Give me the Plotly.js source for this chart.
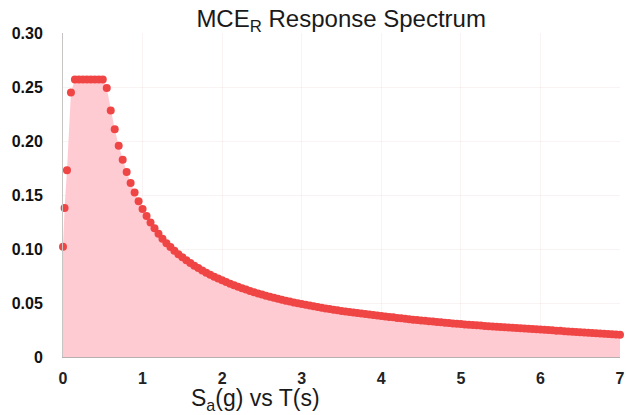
<!DOCTYPE html>
<html>
<head>
<meta charset="utf-8">
<script src="https://cdn.plot.ly/plotly-3.0.1.min.js"></script>
<style>
  html, body { margin: 0; padding: 0; background: #ffffff; }
  #chart { width: 626px; height: 415px; }
</style>
</head>
<body>
<div id="chart"></div>
<script>
// Period T (s)
const periods = [
  0, 0.02, 0.05, 0.10, 0.15, 0.20, 0.25, 0.30, 0.35, 0.40, 0.45, 0.50, 0.55,
  0.60, 0.65, 0.70, 0.75, 0.80, 0.85, 0.90, 0.95, 1.00,
  1.05, 1.10, 1.15, 1.20, 1.25, 1.30, 1.35, 1.40, 1.45, 1.50,
  1.55, 1.60, 1.65, 1.70, 1.75, 1.80, 1.85, 1.90, 1.95, 2.00,
  2.05, 2.10, 2.15, 2.20, 2.25, 2.30, 2.35, 2.40, 2.45, 2.50,
  2.55, 2.60, 2.65, 2.70, 2.75, 2.80, 2.85, 2.90, 2.95, 3.00,
  3.05, 3.10, 3.15, 3.20, 3.25, 3.30, 3.35, 3.40, 3.45, 3.50,
  3.55, 3.60, 3.65, 3.70, 3.75, 3.80, 3.85, 3.90, 3.95, 4.00,
  4.05, 4.10, 4.15, 4.20, 4.25, 4.30, 4.35, 4.40, 4.45, 4.50,
  4.55, 4.60, 4.65, 4.70, 4.75, 4.80, 4.85, 4.90, 4.95, 5.00,
  5.05, 5.10, 5.15, 5.20, 5.25, 5.30, 5.35, 5.40, 5.45, 5.50,
  5.55, 5.60, 5.65, 5.70, 5.75, 5.80, 5.85, 5.90, 5.95, 6.00,
  6.05, 6.10, 6.15, 6.20, 6.25, 6.30, 6.35, 6.40, 6.45, 6.50,
  6.55, 6.60, 6.65, 6.70, 6.75, 6.80, 6.85, 6.90, 6.95, 7.00
];

// Spectral acceleration Sa (g)
const spectralAccel = [
  0.102, 0.138, 0.173, 0.245, 0.257, 0.257, 0.257, 0.257, 0.257, 0.257, 0.257, 0.257, 0.249,
  0.2283, 0.2108, 0.1957, 0.1827, 0.1713, 0.1612, 0.1522, 0.1442, 0.1370,
  0.1305, 0.1245, 0.1191, 0.1142, 0.1096, 0.1054, 0.1018, 0.0984, 0.0952, 0.0923,
  0.0895, 0.0870, 0.0845, 0.0823, 0.0801, 0.0781, 0.0762, 0.0744, 0.0726, 0.0710,
  0.0694, 0.0679, 0.0664, 0.0650, 0.0637, 0.0624, 0.0612, 0.0600, 0.0589, 0.0578,
  0.0568, 0.0558, 0.0548, 0.0539, 0.0530, 0.0521, 0.0513, 0.0505, 0.0497, 0.0490,
  0.0483, 0.0476, 0.0469, 0.0463, 0.0456, 0.0450, 0.0444, 0.0438, 0.0433, 0.0427,
  0.0422, 0.0417, 0.0412, 0.0407, 0.0402, 0.0397, 0.0393, 0.0388, 0.0384, 0.0380,
  0.0375, 0.0371, 0.0367, 0.0362, 0.0358, 0.0354, 0.0350, 0.0346, 0.0342, 0.0338,
  0.0335, 0.0331, 0.0328, 0.0324, 0.0321, 0.0318, 0.0314, 0.0311, 0.0308, 0.0305,
  0.0302, 0.0299, 0.0296, 0.0293, 0.0291, 0.0288, 0.0285, 0.0283, 0.0280, 0.0278,
  0.0275, 0.0273, 0.0270, 0.0268, 0.0266, 0.0263, 0.0261, 0.0259, 0.0257, 0.0255,
  0.0252, 0.0250, 0.0247, 0.0244, 0.0242, 0.0239, 0.0237, 0.0234, 0.0232, 0.0229,
  0.0227, 0.0225, 0.0222, 0.0220, 0.0218, 0.0216, 0.0213, 0.0211, 0.0209, 0.0207
];

const xTickVals = [0, 1, 2, 3, 4, 5, 6, 7];
const xTickText = ['0', '1', '2', '3', '4', '5', '6', '7'];
const yTickVals = [0, 0.05, 0.10, 0.15, 0.20, 0.25, 0.30];
const yTickText = ['0', '0.05', '0.10', '0.15', '0.20', '0.25', '0.30'];

const FONT = 'Liberation Sans, Arial, sans-serif';

// shaded area under the spectrum
const areaTrace = {
  x: periods,
  y: spectralAccel,
  type: 'scatter',
  mode: 'lines',
  line: { width: 0, color: 'rgba(0,0,0,0)' },
  fill: 'tozeroy',
  fillcolor: 'rgba(255, 200, 208, 0.95)',
  hoverinfo: 'skip',
  showlegend: false
};

// one dot per period
const pointTrace = {
  x: periods,
  y: spectralAccel,
  type: 'scatter',
  mode: 'markers',
  marker: { size: 8, color: '#f04545', line: { width: 0 } },
  cliponaxis: false,
  showlegend: false
};

const layout = {
  width: 626,
  height: 415,
  margin: { l: 63, r: 6, t: 33, b: 58 },
  paper_bgcolor: '#ffffff',
  plot_bgcolor: '#ffffff',
  font: { family: FONT, color: '#111111' },
  title: {
    text: 'MCE<sub>R</sub> Response Spectrum',
    font: { family: FONT, size: 24, color: '#1a1a1a' },
    x: 0.545, xanchor: 'center',
    y: 0.955, yanchor: 'middle'
  },
  xaxis: {
    range: [0, 7],
    tickmode: 'array',
    tickvals: xTickVals,
    ticktext: xTickText,
    tickfont: { family: FONT, size: 16, color: '#222222', weight: 'bold' },
    ticks: '',
    ticklabelstandoff: 7,
    showgrid: true,
    gridcolor: 'rgba(230,200,205,0.22)',
    zeroline: false,
    showline: true,
    linecolor: '#b8b0b0',
    linewidth: 1,
    fixedrange: true
  },
  yaxis: {
    range: [0, 0.30],
    tickmode: 'array',
    tickvals: yTickVals,
    ticktext: yTickText,
    tickfont: { family: FONT, size: 16, color: '#111111', weight: 'bold' },
    ticks: '',
    ticklabelstandoff: 16,
    showgrid: true,
    gridcolor: 'rgba(230,200,205,0.22)',
    zeroline: false,
    showline: true,
    linecolor: '#c8c4c4',
    linewidth: 1,
    fixedrange: true
  },
  annotations: [{
    text: 'S<sub>a</sub>(g) vs T(s)',
    xref: 'paper', yref: 'paper',
    x: 0.345, y: -0.13,
    xanchor: 'center', yanchor: 'middle',
    showarrow: false,
    font: { family: FONT, size: 23, color: '#1a1a1a' }
  }]
};

Plotly.newPlot('chart', [areaTrace, pointTrace], layout, { displayModeBar: false, staticPlot: true });
</script>
</body>
</html>
